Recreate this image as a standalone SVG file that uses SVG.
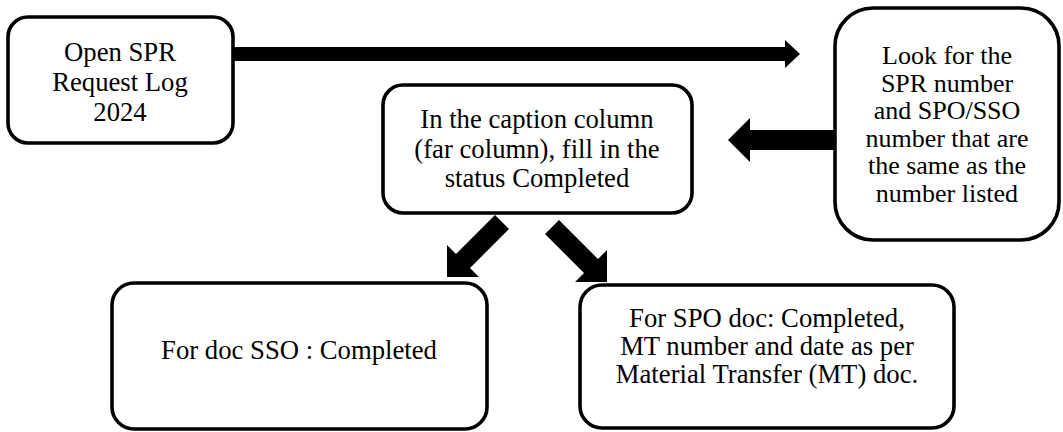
<svg xmlns="http://www.w3.org/2000/svg" width="1063" height="432" viewBox="0 0 1063 432">
<style>
.box{fill:#fff;stroke:#000;stroke-width:3.6}
.t{font-size:26.7px;fill:#000;text-anchor:middle}
.s{font-size:26px}
.arr{fill:#000;stroke:none}
</style>
<rect width="1063" height="432" fill="#fff"/>
<g id="connectors">
<polygon class="arr" points="233,47 785,47 785,40 800,54 785,68 785,61 233,61"/>
<polygon class="arr" points="835,130 750,130 750,118 728,140 750,162 750,150 835,150"/>
<polygon class="arr" points="495,215 509,229 470,268 479,277 447,277 447,245 456,254"/>
<polygon class="arr" points="559,220 598,259 607,250 607,282 575,282 584,273 545,234"/>
</g>
<g font-family="Liberation Serif, Tinos, 'Times New Roman', serif">
<g id="node-open">
<rect class="box" x="8" y="17" width="225" height="126" rx="20"/>
<text class="t" x="120" y="61">Open SPR</text>
<text class="t" x="120" y="91">Request Log</text>
<text class="t" x="120" y="121">2024</text>
</g>
<g id="node-look">
<rect class="box" x="835" y="8" width="224" height="232" rx="38"/>
<text class="t s" x="947" y="64">Look for the</text>
<text class="t s" x="947" y="91.5">SPR number</text>
<text class="t s" x="947" y="119">and SPO/SSO</text>
<text class="t s" x="947" y="146.5">number that are</text>
<text class="t s" x="947" y="174">the same as the</text>
<text class="t s" x="947" y="201.5">number listed</text>
</g>
<g id="node-caption">
<rect class="box" x="383" y="85" width="309" height="128" rx="20"/>
<text class="t" x="537" y="128">In the caption column</text>
<text class="t" x="537" y="158">(far column), fill in the</text>
<text class="t" x="537" y="187">status Completed</text>
</g>
<g id="node-sso">
<rect class="box" x="112" y="283" width="375" height="146" rx="22"/>
<text class="t" x="299" y="359">For doc SSO : Completed</text>
</g>
<g id="node-spo">
<rect class="box" x="580" y="285" width="374" height="143" rx="22"/>
<text class="t" x="767" y="327">For SPO doc: Completed,</text>
<text class="t" x="767" y="355">MT number and date as per</text>
<text class="t" x="767" y="383">Material Transfer (MT) doc.</text>
</g>
</g>
</svg>
